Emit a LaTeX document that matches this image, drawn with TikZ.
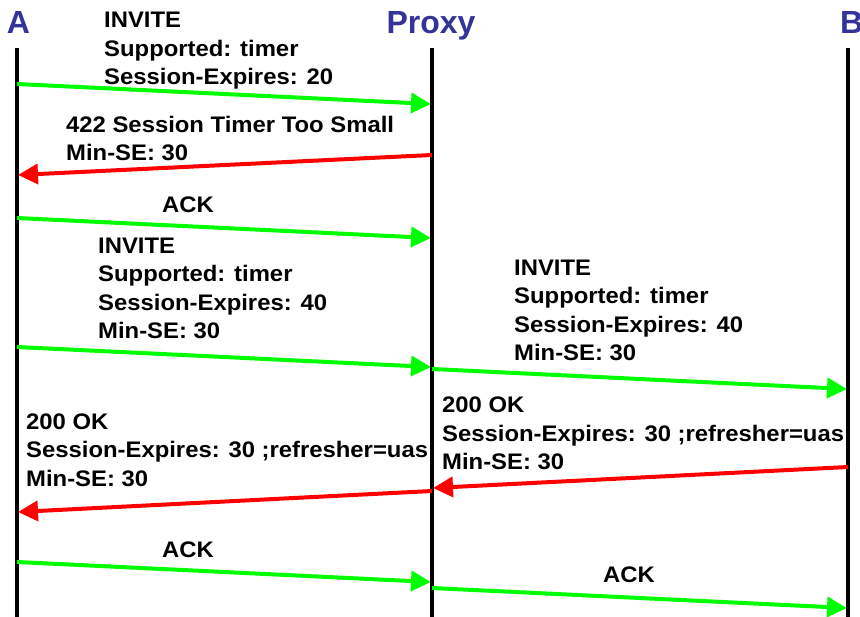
\documentclass[tikz,border=0pt]{standalone}
\usepackage{fontspec}
\setmainfont{Liberation Sans}
\newfontfamily\lblfont{Liberation Sans}[FakeStretch=1.06]
\usetikzlibrary{arrows.meta}
\definecolor{hdrblue}{RGB}{51,51,153}
\definecolor{okgreen}{RGB}{0,255,0}
\definecolor{errred}{RGB}{255,0,0}
\tikzset{
  lifeline/.style={line width=4pt, black},
  msg/.style={line width=4pt, -{Triangle[length=20pt,width=20pt]}},
  req/.style={msg, okgreen},
  resp/.style={msg, errred},
  lbl/.style={anchor=base west, align=left, inner sep=0pt, font=\lblfont\fontsize{22.5}{28.5}\selectfont\bfseries},
  clbl/.style={anchor=base, inner sep=0pt, font=\lblfont\fontsize{22.5}{28.5}\selectfont\bfseries},
  hdr/.style={anchor=base, inner sep=0pt, text=hdrblue, font=\fontsize{32}{36}\selectfont\bfseries}
}
\begin{document}
\begin{tikzpicture}[x=1pt,y=-1pt]
\useasboundingbox (0,0) rectangle (860,617);
% headers
\node[hdr] (hA) at (18.5,34) {A};
\node[hdr] (hP) at (431,34) {Proxy};
\node[hdr, anchor=base west] (hB) at (840,34) {B};
% lifelines
\coordinate (At) at (17,48); \coordinate (Ab) at (17,620);
\coordinate (Pt) at (432,48); \coordinate (Pb) at (432,620);
\coordinate (Bt) at (848,48); \coordinate (Bb) at (848,620);
\draw[lifeline] (At) -- (Ab);
\draw[lifeline] (Pt) -- (Pb);
\draw[lifeline] (Bt) -- (Bb);
% message endpoints
\coordinate (m1s) at (17,84);  \coordinate (m1e) at (431,104);
\coordinate (m2s) at (432,155); \coordinate (m2e) at (18,175);
\coordinate (m3s) at (17,218); \coordinate (m3e) at (431,238);
\coordinate (m4s) at (17,347); \coordinate (m4e) at (431,367);
\coordinate (m5s) at (432,369); \coordinate (m5e) at (847,389);
\coordinate (m6s) at (848,467); \coordinate (m6e) at (433,488);
\coordinate (m7s) at (432,491); \coordinate (m7e) at (18,512);
\coordinate (m8s) at (17,562); \coordinate (m8e) at (431,582);
\coordinate (m9s) at (432,588); \coordinate (m9e) at (847,608);
\draw[req] (m1s) -- (m1e);
\draw[resp] (m2s) -- (m2e);
\draw[req] (m3s) -- (m3e);
\draw[req] (m4s) -- (m4e);
\draw[req] (m5s) -- (m5e);
\draw[resp] (m6s) -- (m6e);
\draw[resp] (m7s) -- (m7e);
\draw[req] (m8s) -- (m8e);
\draw[req] (m9s) -- (m9e);
% labels (anchored at the baseline of their last line)
\node[lbl] (l1) at (104,85) {INVITE\\Supported: timer\\Session-Expires: 20};
\node[lbl] (l2) at (66,161) {422 Session Timer Too Small\\Min-SE: 30};
\node[clbl] (l3) at (188,213) {ACK};
\node[lbl] (l4) at (98,339) {INVITE\\Supported: timer\\Session-Expires: 40\\Min-SE: 30};
\node[lbl] (l5) at (514,361) {INVITE\\Supported: timer\\Session-Expires: 40\\Min-SE: 30};
\node[lbl] (l6) at (442,470) {200 OK\\Session-Expires: 30 ;refresher=uas\\Min-SE: 30};
\node[lbl] (l7) at (26,486) {200 OK\\Session-Expires: 30 ;refresher=uas\\Min-SE: 30};
\node[clbl] (l8) at (188,557) {ACK};
\node[clbl] (l9) at (629,582) {ACK};
\end{tikzpicture}
\end{document}
